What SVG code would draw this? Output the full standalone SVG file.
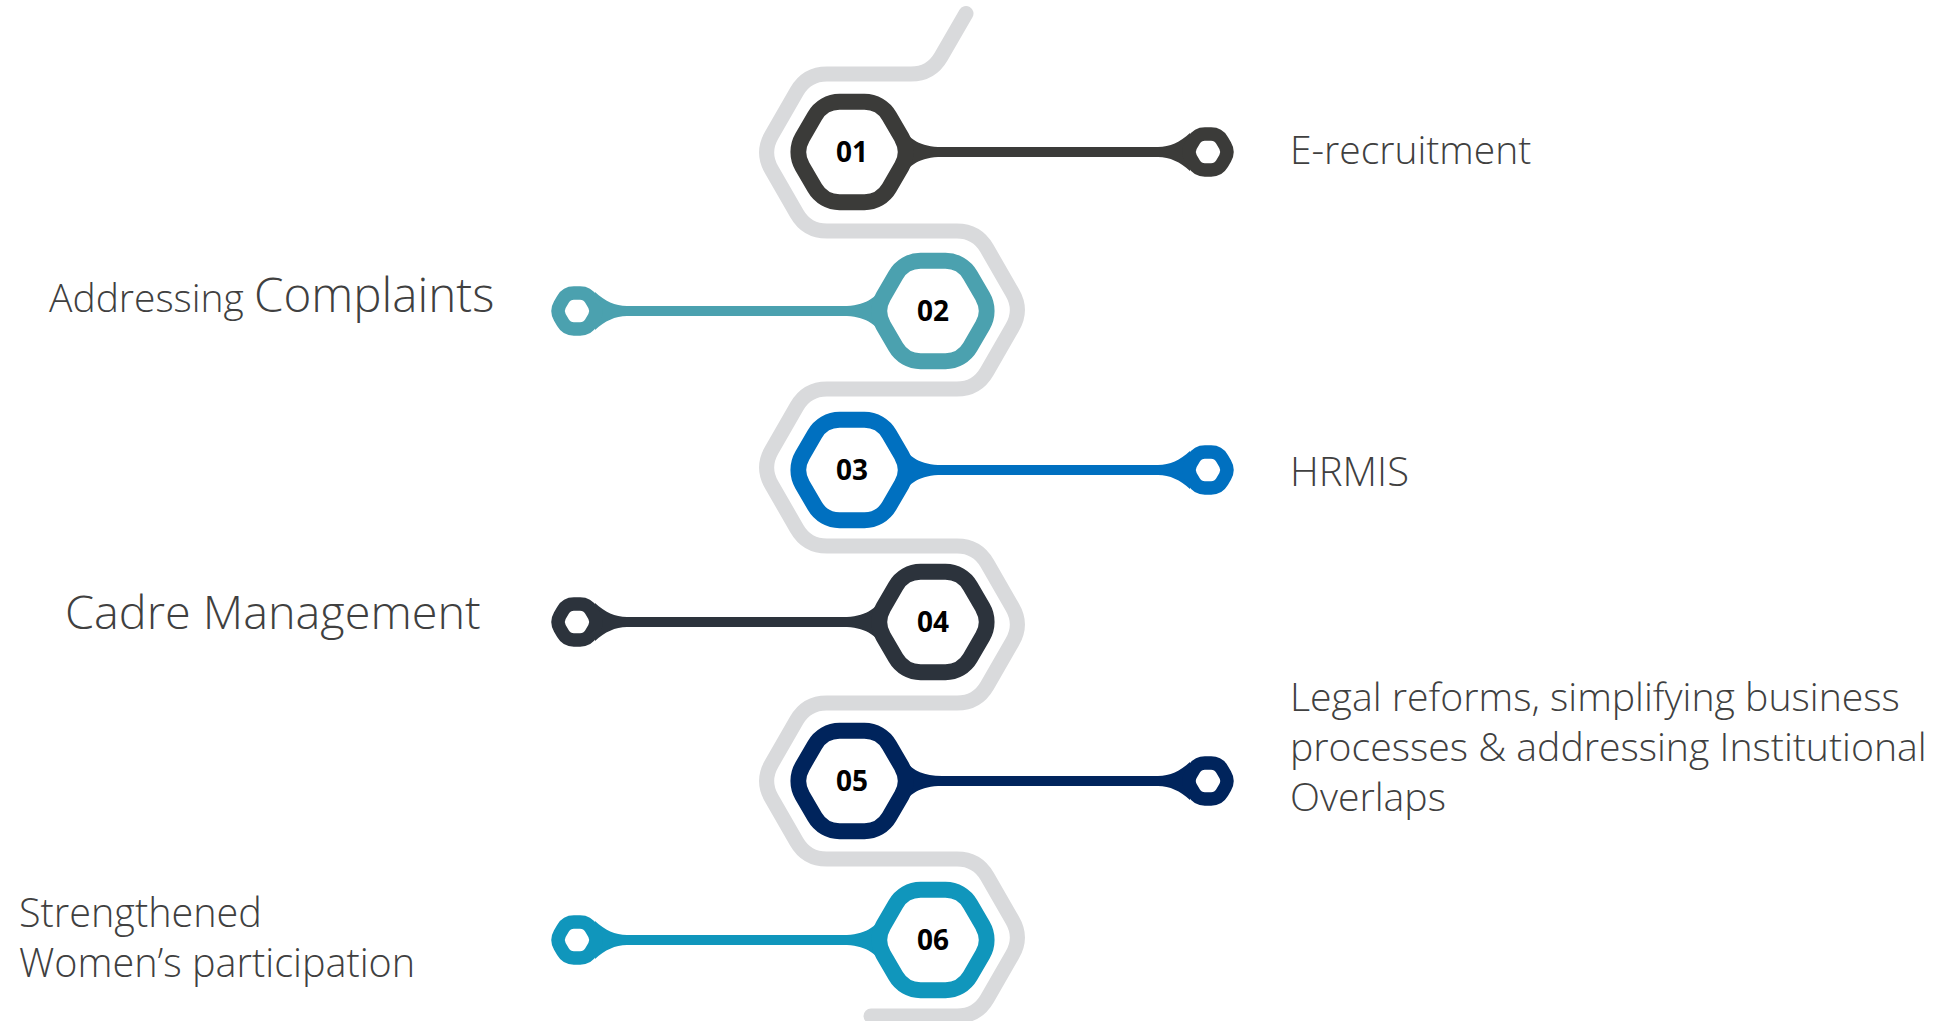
<svg xmlns="http://www.w3.org/2000/svg" xmlns:xlink="http://www.w3.org/1999/xlink" width="1942" height="1021" viewBox="0 0 1942 1021">
  <style>
    .track { fill: none; stroke: #D9DADC; stroke-width: 15; stroke-linecap: round; stroke-linejoin: round; }
    .ring { fill: #FFFFFF; stroke-width: 16; }
    .ring-s { fill: #FFFFFF; stroke-width: 13.4; }
    .num { font-family: "Open Sans", "Noto Sans", "Liberation Sans", sans-serif; font-weight: 700; font-size: 28px; fill: #000000; text-anchor: middle; }
    .lbl { font-family: "Open Sans", "Lato", "Liberation Sans", sans-serif; font-weight: 300; fill: #404040; }
  </style>
  <defs>
    <!-- large rounded hexagon, centred on the origin -->
    <path id="hexL" d="M49.7,-14.38 A28.7,28.7 0 0 1 49.7,14.38 L37.3,35.85 A28.7,28.7 0 0 1 12.4,50.23 L-12.4,50.23 A28.7,28.7 0 0 1 -37.3,35.85 L-49.7,14.38 A28.7,28.7 0 0 1 -49.7,-14.38 L-37.3,-35.85 A28.7,28.7 0 0 1 -12.4,-50.23 L12.4,-50.23 A28.7,28.7 0 0 1 37.3,-35.85 Z"/>
    <!-- small rounded hexagon (stem end) -->
    <path id="hexS" d="M17.15,-6.32 A12.6,12.6 0 0 1 17.15,6.32 L14.05,11.69 A12.6,12.6 0 0 1 3.1,18.01 L-3.1,18.01 A12.6,12.6 0 0 1 -14.05,11.69 L-17.15,6.32 A12.6,12.6 0 0 1 -17.15,-6.32 L-14.05,-11.69 A12.6,12.6 0 0 1 -3.1,-18.01 L3.1,-18.01 A12.6,12.6 0 0 1 14.05,-11.69 Z"/>
    <!-- stem with flared ends, from the large hexagon towards +x -->
    <path id="stem" d="M50,-25 C57,-13 68,-5 90,-5 L306,-5 C318,-5 328,-10 338,-19 L342,0 L338,19 C328,10 318,5 306,5 L90,5 C68,5 57,13 50,25 Z"/>
  </defs>

  <rect x="0" y="0" width="1942" height="1021" fill="#FFFFFF"/>

  <!-- grey zig-zag track -->
  <g id="track">
    <path class="track" d="M966,13.5 L941,56.7 Q931,74 911,74 L826.9,74 Q806.9,74 796.9,91.3 L771.6,135.2 Q761.6,152.5 771.6,169.8 L796.9,213.7 Q806.9,231 826.9,231 L956.8,231 Q976.8,231 986.8,248.3 L1012.4,292.7 Q1022.4,310 1012.4,327.3 L986.8,371.7 Q976.8,389 956.8,389 L826.9,389 Q806.9,389 796.9,406.3 L771.6,450.2 Q761.6,467.5 771.6,484.8 L796.9,528.7 Q806.9,546 826.9,546 L957.1,546 Q977.1,546 987.1,563.3 L1012.4,607.2 Q1022.4,624.5 1012.4,641.8 L987.1,685.7 Q977.1,703 957.1,703 L826.6,703 Q806.6,703 796.6,720.3 L771.6,763.7 Q761.6,781 771.6,798.3 L796.6,841.7 Q806.6,859 826.6,859 L957.1,859 Q977.1,859 987.1,876.3 L1012.4,920.2 Q1022.4,937.5 1012.4,954.8 L987.1,998.7 Q977.1,1016 957.1,1016 L871,1016"/>
  </g>

  <!-- stems joining each number to its end hexagon -->
  <g id="connectors">
    <use xlink:href="#stem" href="#stem" transform="translate(852,152)" fill="#3B3B39"/>
    <use xlink:href="#stem" href="#stem" transform="translate(933,311) scale(-1,1)" fill="#4BA1AF"/>
    <use xlink:href="#stem" href="#stem" transform="translate(852,470)" fill="#0070C0"/>
    <use xlink:href="#stem" href="#stem" transform="translate(933,622) scale(-1,1)" fill="#2C333C"/>
    <use xlink:href="#stem" href="#stem" transform="translate(852,781)" fill="#00245C"/>
    <use xlink:href="#stem" href="#stem" transform="translate(933,940) scale(-1,1)" fill="#1096BC"/>
  </g>

  <g id="node-01">
    <g transform="translate(852,152)" stroke="#3B3B39">
      <use xlink:href="#hexL" href="#hexL" class="ring"/>
      <use xlink:href="#hexS" href="#hexS" class="ring-s" x="356"/>
      <text class="num" x="0" y="10" stroke="none">01</text>
    </g>
    <text class="lbl" x="1290" y="164" font-size="39">E-recruitment</text>
  </g>

  <g id="node-02">
    <g transform="translate(933,311)" stroke="#4BA1AF">
      <use xlink:href="#hexL" href="#hexL" class="ring"/>
      <use xlink:href="#hexS" href="#hexS" class="ring-s" x="-356"/>
      <text class="num" x="0" y="10" stroke="none">02</text>
    </g>
    <text class="lbl" x="49" y="312"><tspan font-size="39">Addressing </tspan><tspan font-size="47.5">Complaints</tspan></text>
  </g>

  <g id="node-03">
    <g transform="translate(852,470)" stroke="#0070C0">
      <use xlink:href="#hexL" href="#hexL" class="ring"/>
      <use xlink:href="#hexS" href="#hexS" class="ring-s" x="356"/>
      <text class="num" x="0" y="10" stroke="none">03</text>
    </g>
    <text class="lbl" x="1290" y="486" font-size="40">HRMIS</text>
  </g>

  <g id="node-04">
    <g transform="translate(933,622)" stroke="#2C333C">
      <use xlink:href="#hexL" href="#hexL" class="ring"/>
      <use xlink:href="#hexS" href="#hexS" class="ring-s" x="-356"/>
      <text class="num" x="0" y="10" stroke="none">04</text>
    </g>
    <text class="lbl" x="65" y="629" font-size="46.8">Cadre Management</text>
  </g>

  <g id="node-05">
    <g transform="translate(852,781)" stroke="#00245C">
      <use xlink:href="#hexL" href="#hexL" class="ring"/>
      <use xlink:href="#hexS" href="#hexS" class="ring-s" x="356"/>
      <text class="num" x="0" y="10" stroke="none">05</text>
    </g>
    <text class="lbl" font-size="39.2">
      <tspan x="1290" y="711">Legal reforms, simplifying business</tspan>
      <tspan x="1290" y="761">processes &amp; addressing Institutional</tspan>
      <tspan x="1290" y="811">Overlaps</tspan>
    </text>
  </g>

  <g id="node-06">
    <g transform="translate(933,940)" stroke="#1096BC">
      <use xlink:href="#hexL" href="#hexL" class="ring"/>
      <use xlink:href="#hexS" href="#hexS" class="ring-s" x="-356"/>
      <text class="num" x="0" y="10" stroke="none">06</text>
    </g>
    <text class="lbl" font-size="39.6">
      <tspan x="19" y="927">Strengthened</tspan>
      <tspan x="19" y="977">Women’s participation</tspan>
    </text>
  </g>
</svg>
